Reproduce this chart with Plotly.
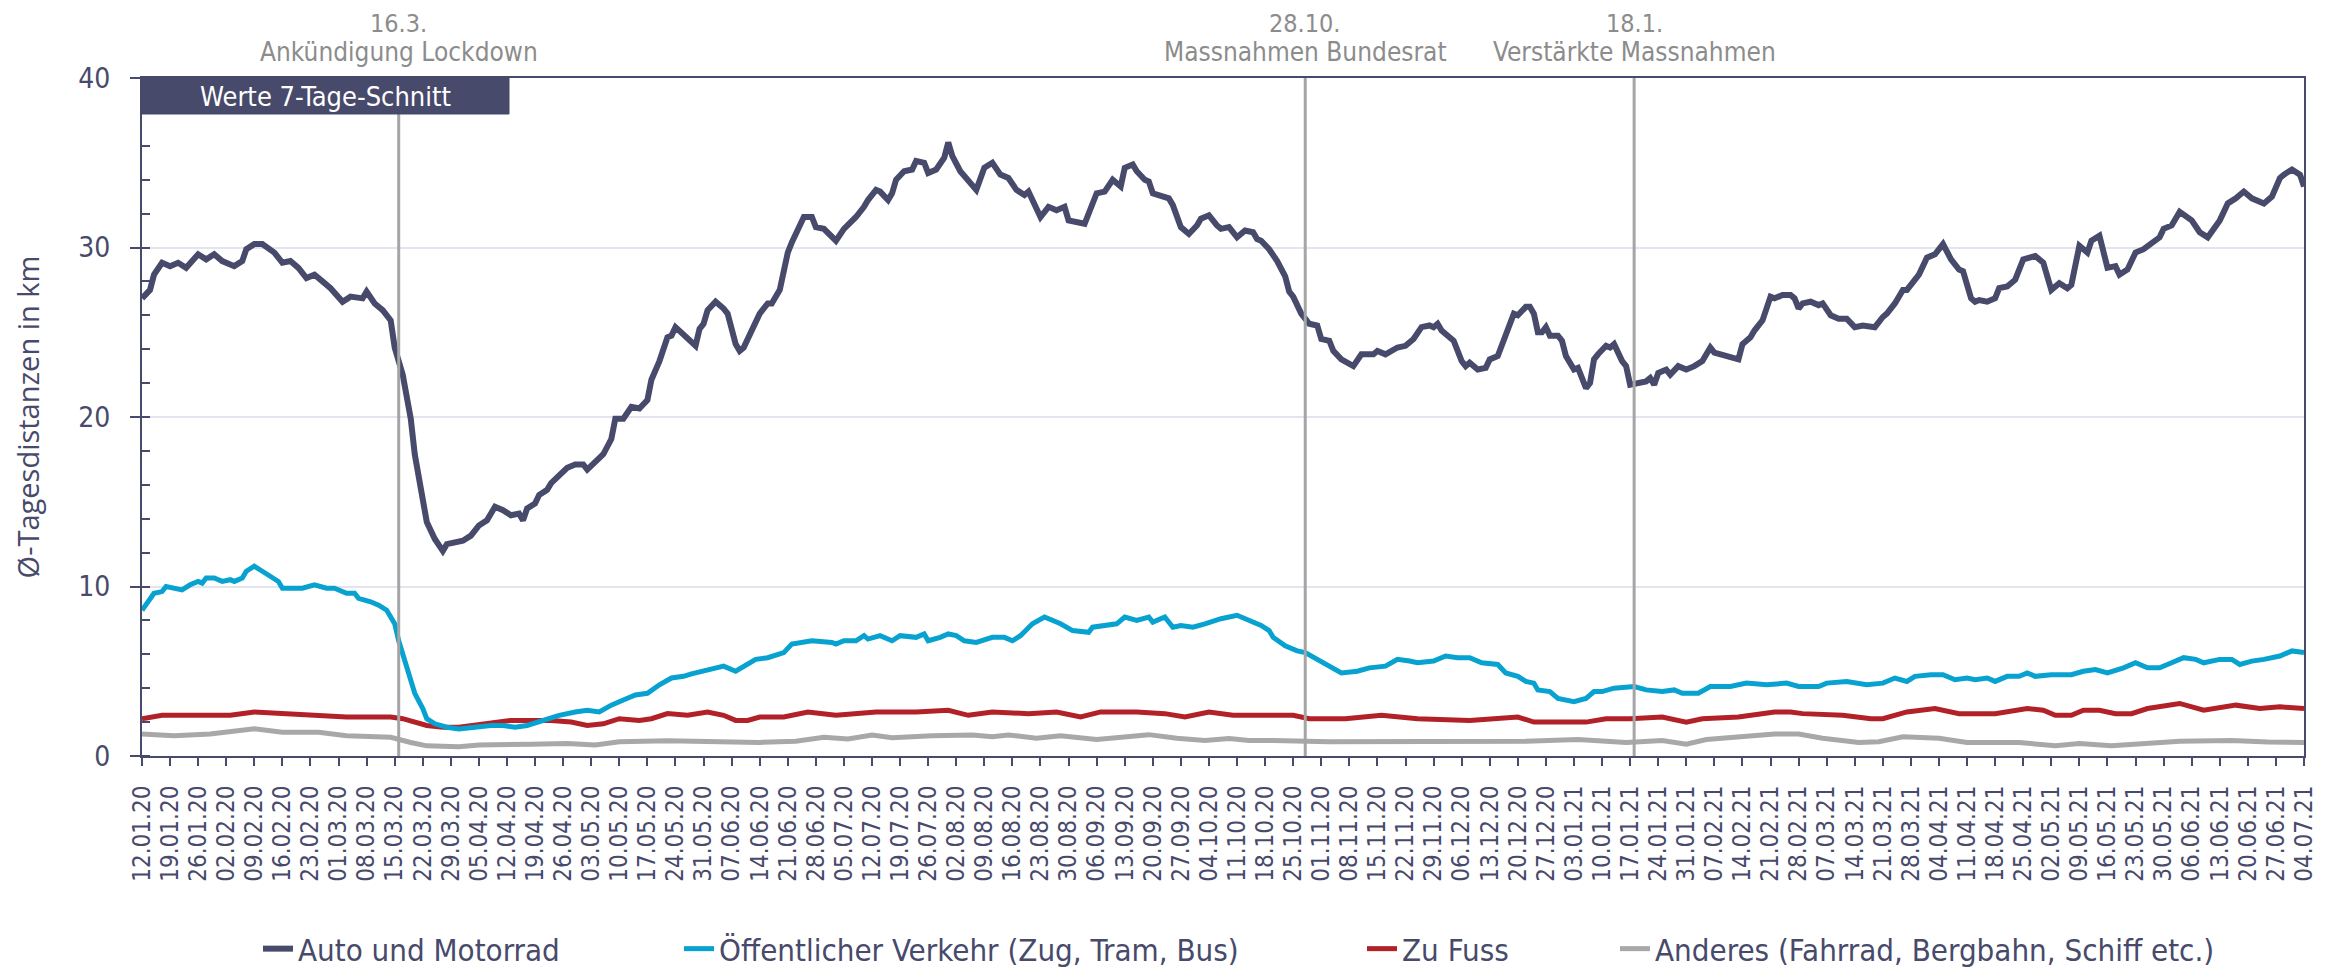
import pandas as pd
import plotly.graph_objects as go

START = pd.Timestamp("2020-01-12")
END = pd.Timestamp("2021-07-04")

# ---- data (day offset from START, value in km) ----
auto_day = [0,2,3,5,7,9,11,14,16,18,20,23,25,26,28,30,33,35,37,39,41,43,45,47,50,52,55,56,58,60,62,63,65,67,68,70,71,73,75,76,78,80,82,84,86,88,90,92,94,95,96,98,99,101,102,104,106,108,110,111,113,115,117,118,120,122,124,126,127,129,131,132,133,135,137,138,139,140,141,143,145,146,148,149,150,152,154,156,157,159,161,162,164,165,167,168,170,172,173,175,176,178,180,181,183,184,186,187,188,190,192,193,195,196,198,200,201,202,204,206,208,210,212,214,216,218,220,221,223,224,226,228,230,231,235,236,238,240,242,244,245,247,248,250,251,252,256,257,259,261,263,264,266,268,269,271,273,275,277,278,279,281,283,285,286,287,289,291,293,294,296,297,299,302,304,307,308,310,313,315,317,319,321,322,323,324,327,329,330,331,333,335,336,338,340,342,343,345,346,347,348,349,350,351,353,354,355,357,358,360,361,362,363,365,366,367,369,370,371,373,375,376,377,378,380,381,383,385,387,389,391,392,395,398,399,401,402,404,406,407,409,411,412,413,414,416,418,419,421,423,425,427,429,432,434,435,437,439,440,442,443,445,447,449,451,453,454,456,457,458,460,462,463,465,467,469,472,474,476,478,480,481,483,485,486,488,490,492,493,495,497,499,501,503,504,506,508,511,513,515,518,520,522,524,526,528,529,531,533,534,536,538,539]
auto_val = [27.0,27.5,28.4,29.1,28.9,29.1,28.8,29.6,29.3,29.6,29.2,28.9,29.2,29.9,30.2,30.2,29.7,29.1,29.2,28.8,28.2,28.4,28.0,27.6,26.8,27.1,27.0,27.4,26.7,26.3,25.7,24.1,22.5,19.9,17.8,15.4,13.8,12.8,12.1,12.5,12.6,12.7,13.0,13.6,13.9,14.7,14.5,14.2,14.3,13.9,14.6,14.9,15.4,15.7,16.1,16.5,17.0,17.2,17.2,16.9,17.4,17.8,18.7,19.9,19.9,20.6,20.5,21.0,22.2,23.3,24.7,24.8,25.3,24.9,24.4,24.2,25.2,25.5,26.3,26.8,26.4,26.1,24.3,23.9,24.1,25.1,26.1,26.7,26.7,27.5,29.7,30.3,31.4,31.8,31.8,31.2,31.1,30.7,30.4,31.1,31.3,31.8,32.4,32.8,33.4,33.3,32.8,33.2,34.0,34.5,34.6,35.1,35.0,34.4,34.6,35.3,36.2,35.4,34.5,34.0,33.4,34.7,35.0,34.3,34.1,33.4,33.1,33.3,32.2,31.8,32.4,32.2,32.4,31.6,31.4,32.0,33.2,33.3,34.0,33.6,34.7,34.9,34.5,34.0,33.9,33.2,32.9,32.5,31.2,30.8,31.3,31.7,31.9,31.3,31.1,31.2,30.6,31.0,30.9,30.5,30.4,29.9,29.2,28.3,27.4,27.1,26.1,25.5,25.4,24.6,24.5,23.9,23.4,23.0,23.7,23.7,23.9,23.7,24.1,24.2,24.6,25.3,25.4,25.3,25.5,25.1,24.5,23.3,23.0,23.2,22.8,22.9,23.4,23.6,24.9,26.1,26.0,26.5,26.5,26.1,25.0,25.0,25.3,24.8,24.8,24.5,23.6,22.8,22.9,21.7,22.0,23.4,23.7,24.2,24.1,24.3,23.3,23.0,21.9,22.0,22.1,22.3,21.9,22.6,22.8,22.5,23.0,22.8,23.0,23.3,24.1,23.8,23.6,23.4,24.3,24.7,25.1,25.7,27.1,27.0,27.2,27.2,27.0,26.4,26.7,26.8,26.6,26.7,26.0,25.8,25.8,25.3,25.4,25.3,25.9,26.1,26.7,27.5,27.5,28.2,28.4,29.4,29.6,30.2,29.3,28.7,28.6,27.0,26.8,26.9,26.8,27.0,27.6,27.7,28.1,29.3,29.5,29.1,27.5,27.9,27.6,27.8,30.1,29.7,30.4,30.7,28.8,28.9,28.4,28.7,29.7,29.9,30.3,30.6,31.1,31.3,32.1,31.6,30.9,30.6,31.6,32.6,32.9,33.3,32.9,32.7,32.6,33.0,34.1,34.3,34.6,34.3,33.6]

oev_day = [0,3,5,6,10,12,14,15,16,18,20,22,23,25,26,28,30,32,34,35,38,40,43,46,48,51,53,54,57,59,61,62,63,64,66,68,70,71,73,76,79,83,87,90,93,96,100,104,108,111,114,117,120,123,126,129,132,135,137,140,142,145,148,151,153,156,160,162,167,172,173,175,178,180,181,184,187,189,193,195,196,199,201,203,205,208,212,215,217,219,222,225,229,232,236,237,243,245,248,251,252,255,257,259,262,265,269,273,274,276,279,281,282,285,288,290,293,295,297,299,303,306,310,313,316,318,322,325,328,331,334,338,340,343,345,347,348,351,353,357,360,362,364,367,372,375,379,382,384,388,391,396,400,405,410,413,418,420,425,430,434,437,440,442,446,449,452,455,457,460,462,465,468,470,472,476,481,484,487,490,494,497,500,503,506,509,512,514,518,521,523,526,529,533,536,539]
oev_val = [8.6,9.6,9.7,10.0,9.8,10.1,10.3,10.2,10.5,10.5,10.3,10.4,10.3,10.5,10.9,11.2,10.9,10.6,10.3,9.9,9.9,9.9,10.1,9.9,9.9,9.6,9.6,9.3,9.1,8.9,8.6,8.2,7.8,6.8,5.3,3.7,2.8,2.2,1.9,1.7,1.6,1.7,1.8,1.8,1.7,1.8,2.1,2.4,2.6,2.7,2.6,3.0,3.3,3.6,3.7,4.2,4.6,4.7,4.85,5.0,5.1,5.3,5.0,5.4,5.7,5.8,6.1,6.6,6.8,6.7,6.6,6.8,6.8,7.1,6.9,7.1,6.8,7.1,7.0,7.2,6.8,7.0,7.2,7.1,6.8,6.7,7.0,7.0,6.8,7.1,7.8,8.2,7.8,7.4,7.3,7.6,7.8,8.2,8.0,8.2,7.9,8.2,7.6,7.7,7.6,7.8,8.1,8.3,8.2,8.0,7.7,7.4,7.0,6.5,6.2,6.1,5.7,5.4,5.1,4.9,5.0,5.2,5.3,5.7,5.6,5.5,5.6,5.9,5.8,5.8,5.5,5.4,4.9,4.7,4.4,4.3,3.9,3.8,3.4,3.2,3.4,3.8,3.8,4.0,4.1,3.9,3.8,3.9,3.7,3.7,4.1,4.1,4.3,4.2,4.3,4.1,4.1,4.3,4.4,4.2,4.3,4.6,4.4,4.7,4.8,4.8,4.5,4.6,4.5,4.6,4.4,4.7,4.7,4.9,4.7,4.8,4.8,5.0,5.1,4.9,5.2,5.5,5.2,5.2,5.5,5.8,5.7,5.5,5.7,5.7,5.4,5.6,5.7,5.9,6.2,6.1]

fuss_day = [0,5,14,22,28,35,44,51,62,65,71,75,79,85,92,102,107,111,115,119,124,127,131,136,141,145,148,151,154,160,166,173,183,193,201,206,212,221,228,234,239,248,255,260,266,272,279,287,291,300,309,318,331,343,347,360,365,371,379,385,389,398,407,411,414,424,431,434,440,447,453,462,470,474,477,481,484,488,492,496,500,503,508,514,522,528,533,539]
fuss_val = [2.2,2.4,2.4,2.4,2.6,2.5,2.4,2.3,2.3,2.2,1.8,1.7,1.7,1.9,2.1,2.1,2.0,1.8,1.9,2.2,2.1,2.2,2.5,2.4,2.6,2.4,2.1,2.1,2.3,2.3,2.6,2.4,2.6,2.6,2.7,2.4,2.6,2.5,2.6,2.3,2.6,2.6,2.5,2.3,2.6,2.4,2.4,2.4,2.2,2.2,2.4,2.2,2.1,2.3,2.0,2.0,2.2,2.2,2.3,2.0,2.2,2.3,2.6,2.6,2.5,2.4,2.2,2.2,2.6,2.8,2.5,2.5,2.8,2.7,2.4,2.4,2.7,2.7,2.5,2.5,2.8,2.9,3.1,2.7,3.0,2.8,2.9,2.8]

anderes_day = [0,8,17,28,35,44,51,62,67,71,79,84,97,106,113,119,131,139,154,163,170,176,182,187,197,207,212,216,223,229,238,251,258,265,271,276,282,296,318,345,358,370,379,385,390,398,407,413,419,428,433,439,448,455,468,477,483,491,499,508,521,530,539]
anderes_val = [1.3,1.2,1.3,1.6,1.4,1.4,1.2,1.1,0.8,0.6,0.55,0.65,0.7,0.74,0.65,0.84,0.9,0.87,0.8,0.87,1.1,1.0,1.24,1.08,1.2,1.24,1.13,1.24,1.05,1.2,0.97,1.26,1.05,0.92,1.03,0.92,0.92,0.84,0.87,0.87,0.97,0.79,0.92,0.7,0.97,1.13,1.3,1.3,1.05,0.8,0.84,1.13,1.05,0.8,0.8,0.6,0.74,0.6,0.7,0.87,0.92,0.82,0.8]

series_names = ["Auto und Motorrad", "Öffentlicher Verkehr (Zug, Tram, Bus)", "Zu Fuss",
                "Anderes (Fahrrad, Bergbahn, Schiff etc.)"]
series_colors = ["#474A6B", "#08A2D1", "#B22128", "#A8A8A8"]

event_dates = ["2020-03-16", "2020-10-28", "2021-01-18"]
event_date_labels = ["16.3.", "28.10.", "18.1."]
event_texts = ["Ankündigung Lockdown", "Massnahmen Bundesrat", "Verstärkte Massnahmen"]

y_title = "Ø-Tagesdistanzen in km"
box_text = "Werte 7-Tage-Schnitt"

# ---- figure geometry (page has an 8px body margin) ----
OFF = 8
W, H = 2346 - OFF, 968 - OFF
PL, PT, PR, PB = 142, 78, 2304, 756          # target plot box in page pixels
ML, MT = PL - OFF, PT - OFF
MR, MB = W - (PR - OFF), H - (PB - OFF)
PW, PH = PR - PL, PB - PT

def px_x(page_x):
    return (page_x - PL) / PW

def px_y(page_y):
    return (PB - page_y) / PH

NAVY = "#474A6B"
COND = "DejaVu Sans Condensed, Liberation Sans Narrow, sans-serif"

def to_dates(days):
    return START + pd.to_timedelta(days, unit="D")

fig = go.Figure()
all_days = [auto_day, oev_day, fuss_day, anderes_day]
all_vals = [auto_val, oev_val, fuss_val, anderes_val]
widths = [6, 5, 5, 5]
legend_ids = ["legend", "legend2", "legend3", "legend4"]
for i in [3, 2, 1, 0]:
    fig.add_trace(go.Scatter(
        x=to_dates(all_days[i]), y=all_vals[i], mode="lines", name=series_names[i],
        line=dict(color=series_colors[i], width=widths[i]),
        legend=legend_ids[i], showlegend=True,
    ))

text_starts = [301, 722, 1405, 1658]
legend_cfg = {}
for i, lid in enumerate(legend_ids):
    legend_cfg[lid] = dict(
        x=px_x(text_starts[i] - 43), y=px_y(949),
        xanchor="left", yanchor="middle", orientation="h",
        font=dict(family=COND, size=31, color=NAVY),
        bgcolor="rgba(0,0,0,0)", borderwidth=0,
    )

shapes = []
for d in event_dates:
    shapes.append(dict(type="line", xref="x", yref="paper", x0=d, x1=d, y0=0, y1=1,
                       line=dict(color="#A5A5A5", width=3), layer="above"))
box_x1 = px_x(509)
box_y0 = px_y(114)
shapes.append(dict(type="rect", xref="paper", yref="paper", x0=0, x1=box_x1, y0=box_y0, y1=1,
                   fillcolor=NAVY, line=dict(color=NAVY, width=1), layer="above"))

annotations = []
for d, lab, txt in zip(event_dates, event_date_labels, event_texts):
    annotations.append(dict(x=d, xref="x", yref="paper", y=px_y(8), text=lab,
                            showarrow=False, xanchor="center", yanchor="top", borderpad=0,
                            font=dict(family=COND, size=25, color="#8C8C8C")))
    annotations.append(dict(x=d, xref="x", yref="paper", y=px_y(52), text=txt,
                            showarrow=False, xanchor="center", yanchor="middle",
                            font=dict(family=COND, size=26, color="#8C8C8C")))
annotations.append(dict(x=box_x1 / 2, y=(box_y0 + 1) / 2, xref="paper", yref="paper",
                        text=box_text, showarrow=False, xanchor="center", yanchor="middle",
                        font=dict(family=COND, size=27, color="white")))

fig.update_layout(
    width=W, height=H, template="none",
    margin=dict(l=ML, r=MR, t=MT, b=MB, autoexpand=False),
    paper_bgcolor="white", plot_bgcolor="white",
    shapes=shapes, annotations=annotations, showlegend=True,
    **legend_cfg,
)
fig.update_xaxes(
    type="date", range=[START, END], tick0=START, dtick=7 * 86400000,
    tickformat="%d.%m.%y", tickangle=-90, ticks="outside", ticklen=8, tickwidth=2,
    tickcolor=NAVY, showgrid=False, showline=True, linecolor=NAVY, linewidth=2,
    mirror=True, zeroline=False, automargin=False, ticklabelstandoff=10,
    tickfont=dict(family=COND, size=24, color=NAVY),
)
fig.update_yaxes(
    range=[0, 40], dtick=10, tick0=0, ticks="outside", ticklen=10, tickwidth=2,
    tickcolor=NAVY, showgrid=True, gridcolor="#E4E4EE", gridwidth=2,
    showline=True, linecolor=NAVY, linewidth=2, mirror=True, zeroline=False,
    automargin=False, ticklabelstandoff=14,
    tickfont=dict(family=COND, size=28, color=NAVY),
    minor=dict(dtick=2, ticks="inside", ticklen=8, tickwidth=2, tickcolor=NAVY, showgrid=False),
    title=dict(text=y_title, standoff=38, font=dict(family="Open Sans", size=29, color=NAVY)),
)

fig.write_html("out.html")
